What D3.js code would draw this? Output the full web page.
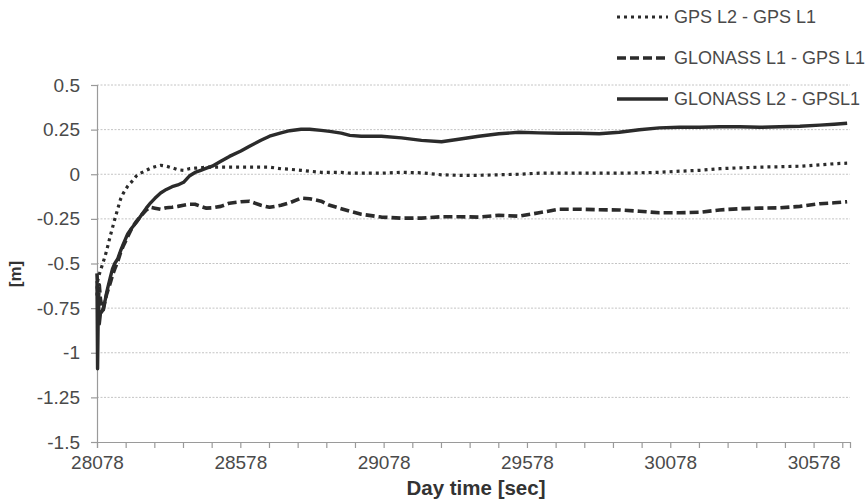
<!DOCTYPE html>
<html>
<head>
<meta charset="utf-8">
<script src="https://cdn.jsdelivr.net/npm/d3@7/dist/d3.min.js"></script>
<style>
  html, body { margin: 0; padding: 0; background: #ffffff; }
  svg { display: block; font-family: "Liberation Sans", Arial, Helvetica, sans-serif; }
</style>
</head>
<body>
<svg id="chart" width="866" height="499"></svg>
<script>
// Day time of each sample [sec]
const timeSec = [
  28078, 28080, 28083, 28086, 28090, 28095, 28100, 28106, 28112, 28118,
  28124, 28132, 28140, 28150, 28160, 28170, 28185, 28200, 28215, 28230,
  28250, 28265, 28280, 28300, 28320, 28340, 28360, 28380, 28400, 28420,
  28440, 28460, 28480, 28510, 28540, 28580, 28610, 28650, 28680, 28720,
  28750, 28790, 28820, 28860, 28890, 28930, 28960, 29000, 29070, 29140,
  29210, 29280, 29340, 29410, 29480, 29550, 29620, 29690, 29760, 29830,
  29900, 29970, 30040, 30110, 30180, 30250, 30320, 30390, 30460, 30530,
  30600, 30650, 30695
];

// GPS L2 - GPS L1 [m]
const gpsL2L1 = [
  -0.68, -0.60, -0.58, -0.56, -0.54, -0.515, -0.49, -0.46, -0.425, -0.387,
  -0.347, -0.30, -0.252, -0.196, -0.14, -0.106, -0.067, -0.04, -0.01, 0.006,
  0.022, 0.034, 0.042, 0.05, 0.045, 0.036, 0.025, 0.022, 0.031, 0.034,
  0.036, 0.04, 0.04, 0.04, 0.04, 0.04, 0.04, 0.04, 0.04, 0.031,
  0.028, 0.022, 0.017, 0.011, 0.011, 0.011, 0.006, 0.006, 0.006, 0.011,
  0.008, -0.003, -0.006, -0.006, -0.003, 0.0, 0.006, 0.006, 0.006, 0.006,
  0.006, 0.008, 0.011, 0.017, 0.022, 0.031, 0.036, 0.04, 0.042, 0.045,
  0.053, 0.059, 0.062
];

// GLONASS L1 - GPS L1 [m]
const glonassL1GpsL1 = [
  -0.555, -0.64, -0.70, -0.62, -0.70, -0.74, -0.76, -0.71, -0.67, -0.64,
  -0.61, -0.566, -0.53, -0.49, -0.44, -0.40, -0.35, -0.30, -0.265, -0.235,
  -0.20, -0.185, -0.19, -0.196, -0.188, -0.185, -0.18, -0.174, -0.168, -0.168,
  -0.18, -0.19, -0.188, -0.18, -0.162, -0.154, -0.151, -0.174, -0.185, -0.174,
  -0.16, -0.134, -0.137, -0.151, -0.174, -0.193, -0.207, -0.224, -0.24, -0.246,
  -0.246, -0.238, -0.238, -0.24, -0.23, -0.235, -0.216, -0.196, -0.196, -0.199,
  -0.20, -0.207, -0.216, -0.216, -0.213, -0.20, -0.193, -0.19, -0.188, -0.18,
  -0.165, -0.16, -0.154
];

// GLONASS L2 - GPS L1 [m]
const glonassL2GpsL1 = [
  -0.60, -1.09, -0.70, -0.84, -0.78, -0.77, -0.75, -0.71, -0.66, -0.62,
  -0.58, -0.53, -0.50, -0.475, -0.43, -0.39, -0.335, -0.30, -0.27, -0.235,
  -0.19, -0.16, -0.135, -0.105, -0.085, -0.07, -0.06, -0.045, -0.01, 0.01,
  0.022, 0.034, 0.045, 0.073, 0.10, 0.13, 0.157, 0.19, 0.213, 0.232,
  0.244, 0.252, 0.252, 0.246, 0.24, 0.23, 0.218, 0.213, 0.213, 0.204,
  0.19, 0.182, 0.196, 0.213, 0.227, 0.235, 0.232, 0.23, 0.23, 0.227,
  0.235, 0.249, 0.26, 0.263, 0.263, 0.266, 0.266, 0.263, 0.266, 0.269,
  0.275, 0.28, 0.286
];

const seriesNames = ["GPS L2 - GPS L1", "GLONASS L1 - GPS L1", "GLONASS L2 - GPSL1"];
const yTickValues = [0.5, 0.25, 0, -0.25, -0.5, -0.75, -1, -1.25, -1.5];
const xLabelValues = [28078, 28578, 29078, 29578, 30078, 30578];

const series = [
  { name: seriesNames[0], values: gpsL2L1, dash: "3,4", width: 3.2 },
  { name: seriesNames[1], values: glonassL1GpsL1, dash: "9,4", width: 3.6 },
  { name: seriesNames[2], values: glonassL2GpsL1, dash: null, width: 3.4 }
];

const svg = d3.select("#chart");
const plot = { left: 97, right: 850, top: 85, bottom: 442 };

const x = d3.scaleLinear().domain([28078, 30705]).range([plot.left, plot.right]);
const y = d3.scaleLinear().domain([-1.5, 0.5]).range([plot.bottom, plot.top]);

const axisColor = "#9a9a9a";
const textColor = "#4a4a4a";
// plain hyphen-minus for negative tick labels
const fmt = d => String(d);

// Horizontal gridlines
svg.append("g")
  .selectAll("line")
  .data(yTickValues.filter(v => v > -1.5))
  .join("line")
  .attr("x1", plot.left).attr("x2", plot.right)
  .attr("y1", d => y(d)).attr("y2", d => y(d))
  .attr("stroke", "#c4c4c4")
  .attr("stroke-width", 1)
  .attr("stroke-dasharray", "2,1.5");

// Y axis
const yAxis = d3.axisLeft(y)
  .tickValues(yTickValues)
  .tickSize(6)
  .tickPadding(11)
  .tickFormat(fmt);
const gy = svg.append("g").attr("transform", `translate(${plot.left},0)`).call(yAxis);
gy.select(".domain").attr("stroke", axisColor).attr("stroke-width", 1.2);
gy.selectAll(".tick line").attr("stroke", axisColor).attr("stroke-width", 1.2);
gy.selectAll(".tick text")
  .attr("fill", textColor)
  .style("font-size", "19px")
  .style("font-family", "'Liberation Sans', Arial, sans-serif");

// X axis: minor ticks every 100 s, labels every 500 s
const xTicks = d3.range(28078, 30705, 100);
const xAxis = d3.axisBottom(x)
  .tickValues(xTicks)
  .tickSize(6)
  .tickPadding(8)
  .tickFormat(d => xLabelValues.includes(d) ? fmt(d) : "");
const gx = svg.append("g").attr("transform", `translate(0,${plot.bottom})`).call(xAxis);
gx.select(".domain").attr("stroke", axisColor).attr("stroke-width", 1.2);
gx.selectAll(".tick line").attr("stroke", axisColor).attr("stroke-width", 1.2);
gx.selectAll(".tick text")
  .attr("fill", textColor)
  .style("font-size", "19px")
  .style("font-family", "'Liberation Sans', Arial, sans-serif");

// Axis titles
svg.append("text")
  .attr("x", 476).attr("y", 495)
  .attr("text-anchor", "middle")
  .attr("fill", "#333")
  .style("font-size", "20.5px")
  .style("font-weight", "bold")
  .text("Day time [sec]");

svg.append("text")
  .attr("transform", "translate(21,274) rotate(-90)")
  .attr("text-anchor", "middle")
  .attr("fill", "#333")
  .style("font-size", "17px")
  .style("font-weight", "bold")
  .text("[m]");

// Series lines
const line = d3.line()
  .x((d, i) => x(timeSec[i]))
  .y(d => y(d));

svg.append("g")
  .selectAll("path")
  .data(series)
  .join("path")
  .attr("d", d => line(d.values))
  .attr("fill", "none")
  .attr("stroke", "#2b2b2b")
  .attr("stroke-width", d => d.width)
  .attr("stroke-linejoin", "round")
  .attr("stroke-linecap", "butt")
  .attr("stroke-dasharray", d => d.dash);

// Legend
const legendRows = [17, 58, 99];
const legend = svg.append("g")
  .selectAll("g")
  .data(series)
  .join("g")
  .attr("transform", (d, i) => `translate(0,${legendRows[i]})`);

legend.append("line")
  .attr("x1", 617).attr("x2", 668)
  .attr("y1", 0).attr("y2", 0)
  .attr("stroke", "#2b2b2b")
  .attr("stroke-width", d => d.width)
  .attr("stroke-linecap", "butt")
  .attr("stroke-dasharray", d => d.dash);

legend.append("text")
  .attr("x", 674).attr("y", 0)
  .attr("dy", "0.35em")
  .attr("fill", textColor)
  .style("font-size", "18px")
  .text(d => d.name);
</script>
</body>
</html>
